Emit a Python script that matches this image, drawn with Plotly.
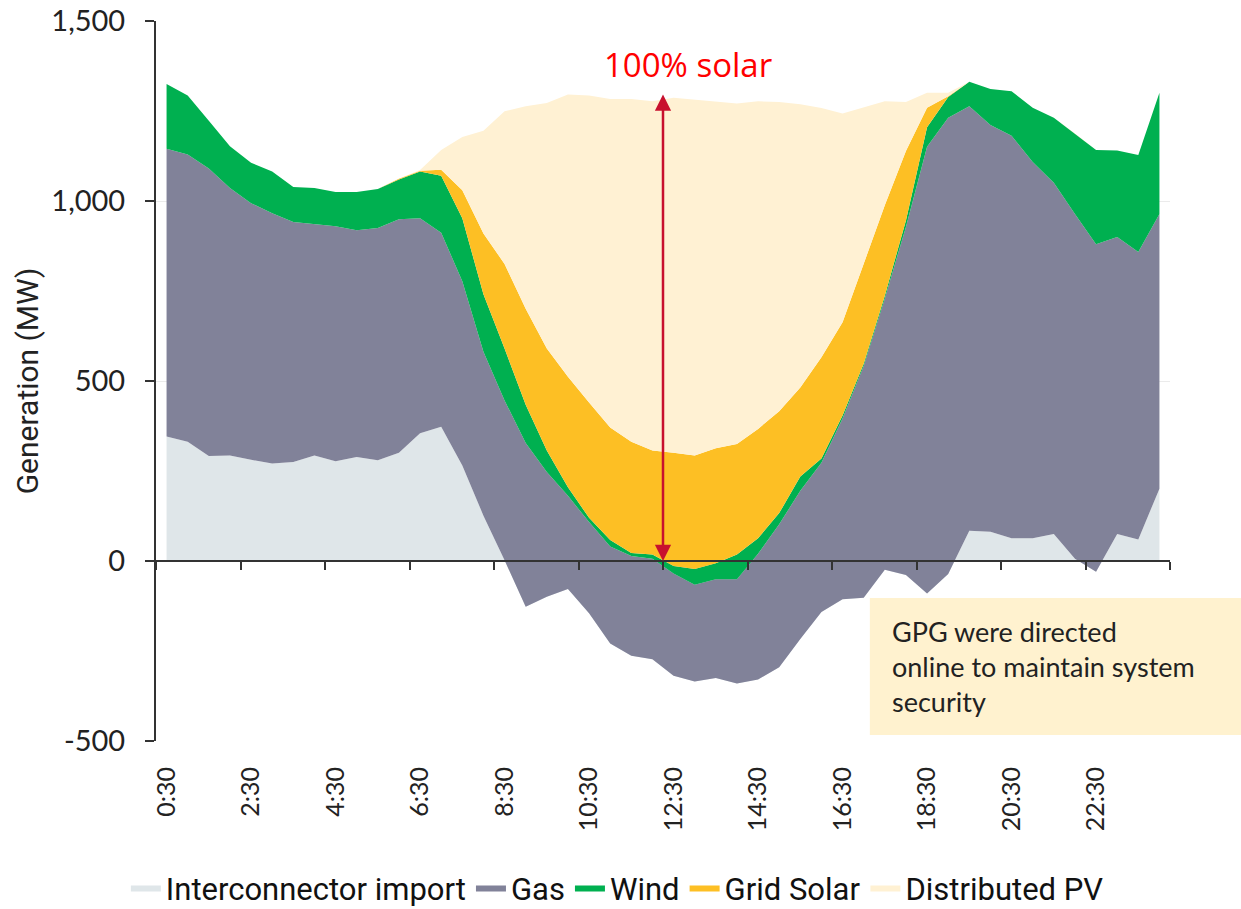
import plotly.graph_objects as go

times = ["0:30", "1:00", "1:30", "2:00", "2:30", "3:00", "3:30", "4:00", "4:30", "5:00",
         "5:30", "6:00", "6:30", "7:00", "7:30", "8:00", "8:30", "9:00", "9:30", "10:00",
         "10:30", "11:00", "11:30", "12:00", "12:30", "13:00", "13:30", "14:00", "14:30", "15:00",
         "15:30", "16:00", "16:30", "17:00", "17:30", "18:00", "18:30", "19:00", "19:30", "20:00",
         "20:30", "21:00", "21:30", "22:00", "22:30", "23:00", "23:30", "24:00"]

interconnector = [346, 331, 292, 293, 281, 271, 275, 293, 277, 289,
                  280, 301, 355, 373, 265, 126, 2, -127, -99, -78,
                  -145, -229, -263, -273, -319, -335, -325, -340, -329, -295,
                  -217, -142, -106, -102, -24, -39, -90, -36, 84, 81,
                  63, 63, 75, 6, -30, 75, 60, 201]
gas = [799, 798, 798, 743, 713, 695, 667, 644, 653, 630,
       645, 648, 597, 539, 512, 455, 444, 455, 346, 259,
       253, 269, 277, 279, 284, 269, 274, 289, 349, 397,
       412, 415, 502, 644, 753, 967, 1241, 1267, 1179, 1130,
       1118, 1045, 976, 958, 910, 825, 798, 763]
wind = [180, 164, 133, 116, 112, 116, 97, 99, 95, 106,
        108, 111, 130, 158, 175, 160, 144, 106, 60, 24,
        12, 18, 8, 12, 21, 44, 45, 69, 43, 31,
        40, 12, 8, 6, 8, 18, 54, 58, 68, 100,
        124, 151, 180, 223, 262, 240, 270, 337]
grid_solar = [0, 0, 0, 0, 0, 0, 0, 0, 0, 0,
              0, 2, 2, 17, 78, 169, 235, 267, 283, 307,
              320, 313, 309, 289, 315, 315, 319, 307, 304, 283,
              247, 281, 259, 277, 251, 193, 54, 2, 0, 0,
              0, 0, 0, 0, 0, 0, 0, 0]
distributed_pv = [0, 0, 0, 0, 0, 0, 0, 0, 0, 0,
                  0, 0, 2, 55, 148, 285, 424, 562, 682, 784,
                  853, 912, 952, 970, 986, 988, 964, 946, 910, 859,
                  787, 692, 580, 434, 289, 136, 42, 10, 0, 0,
                  0, 0, 0, 0, 0, 0, 0, 0]

series_names = ["Interconnector import", "Gas", "Wind", "Grid Solar", "Distributed PV"]
series_colors = ["#DFE6E9", "#818299", "#00B050", "#FDBF24", "#FFF1D3"]
series_values = [interconnector, gas, wind, grid_solar, distributed_pv]

x_tick_labels = ["0:30", "2:30", "4:30", "6:30", "8:30", "10:30",
                 "12:30", "14:30", "16:30", "18:30", "20:30", "22:30"]
x_boundaries = [-0.5 + 4 * k for k in range(13)]
y_ticks = [-500, 0, 500, 1000, 1500]
y_tick_text = ["-500", "0", "500", "1,000", "1,500"]

arrow_pos = 23.5
arrow_top = 1300

fig = go.Figure()
for name, color, vals in zip(series_names, series_colors, series_values):
    fig.add_trace(go.Scatter(
        x=times, y=vals, name=name, mode="lines", stackgroup="one",
        line=dict(width=0, color=color), fillcolor=color,
    ))

# dummy trace to materialize the zero-crossing axis
fig.add_trace(go.Scatter(x=[0], y=[0], xaxis="x2", mode="markers",
                         marker=dict(opacity=0), showlegend=False, hoverinfo="skip"))

axis_font = dict(family="Lato, 'Open Sans', sans-serif", size=29, color="#222222")
narrow = "Roboto, sans-serif"

fig.update_layout(
    width=1241, height=909,
    margin=dict(l=156, r=71, t=21, b=168, autoexpand=False),
    paper_bgcolor="white", plot_bgcolor="white",
    showlegend=True,
    legend=dict(orientation="h", x=0.455, xanchor="center", y=-0.204, yanchor="middle",
                font=dict(family=narrow, size=31, color="#111111"),
                itemwidth=30, traceorder="normal"),
    xaxis=dict(type="category", range=[-0.5, 47.5], tickvals=x_tick_labels,
               ticktext=x_tick_labels, tickangle=-90, ticks="", showline=False, automargin=False,
               showgrid=False, zeroline=False, tickfont=dict(family="Lato, sans-serif", size=25, color="#222222"),
               ticklabelstandoff=20, ticklabeloverflow="allow"),
    xaxis2=dict(overlaying="x", anchor="free", position=0.25, type="linear", automargin=False,
                range=[-0.5, 47.5], tickvals=x_boundaries, showticklabels=False,
                ticks="outside", ticklen=8, tickwidth=2, tickcolor="#333333",
                showline=True, linecolor="#333333", linewidth=2, showgrid=False, zeroline=False),
    yaxis=dict(range=[-500, 1500], tickvals=y_ticks, ticktext=y_tick_text, automargin=False,
               ticks="outside", ticklen=9, tickwidth=2, tickcolor="#333333",
               showline=True, linecolor="#333333", linewidth=2,
               showgrid=True, gridcolor="#EBEBEB", gridwidth=1, zeroline=False,
               tickfont=axis_font, ticklabelstandoff=14, ticklabeloverflow="allow",
               title=dict(text="Generation (MW)", font=dict(family=narrow, size=30, color="#222222"),
                          standoff=4)),
)

fig.add_annotation(x=arrow_pos, y=0, ax=arrow_pos, ay=arrow_top, xref="x2", yref="y",
                   axref="x2", ayref="y", text="", showarrow=True, arrowhead=2,
                   arrowside="end+start", arrowsize=1.3, arrowwidth=2.5, arrowcolor="#C8102E")
fig.add_annotation(x=0.5247, y=0.939, xref="paper", yref="paper", text="100% solar",
                   xanchor="center", yanchor="middle",
                   showarrow=False, font=dict(family="'Open Sans', 'Noto Sans', sans-serif", size=33, color="#FF0000"))

fig.add_shape(type="rect", xref="paper", yref="paper", x0=0.704, x1=1.07, y0=0.0083, y1=0.1986,
              fillcolor="#FFF2CF", line=dict(width=0), layer="above")
fig.add_annotation(x=0.7239, y=0.104, xref="paper", yref="paper", xanchor="left", yanchor="middle",
                   align="left", showarrow=False,
                   text="GPG were directed<br>online to maintain system<br>security",
                   font=dict(family="Lato, sans-serif", size=27, color="#222222"))

fig.write_html("out.html", config={"displayModeBar": False},
               post_script="document.body.style.margin='0';document.body.style.overflow='hidden';")
